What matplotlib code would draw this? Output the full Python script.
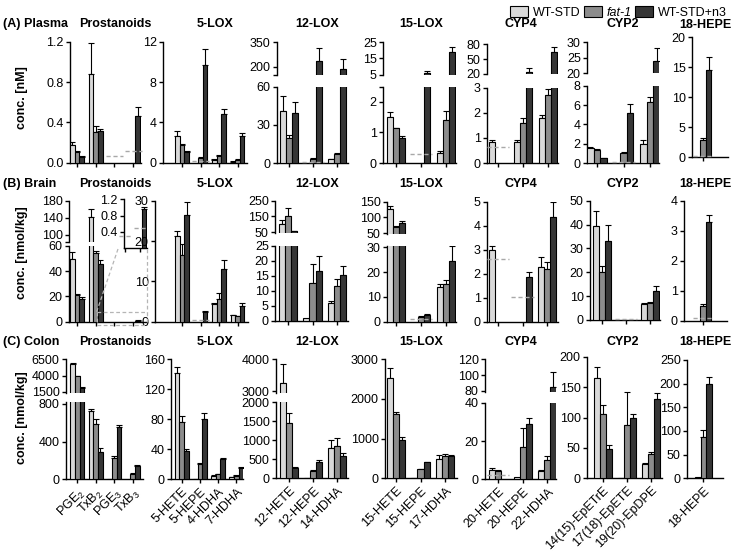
import numpy as np
import matplotlib
matplotlib.use("Agg")
import matplotlib.pyplot as plt
from matplotlib.patches import Patch
from matplotlib.lines import Line2D

plt.rcParams["font.family"] = ["Liberation Sans", "DejaVu Sans"]
plt.rcParams["mathtext.fontset"] = "custom"
plt.rcParams["mathtext.rm"] = "Liberation Sans"
plt.rcParams["mathtext.it"] = "Liberation Sans:italic"

nan = np.nan

# ---- categories ----
groups = ["WT-STD", "fat-1", "WT-STD+n3"]
titles = ["Prostanoids", "5-LOX", "12-LOX", "15-LOX", "CYP4", "CYP2", "18-HEPE"]
prost_labels = ["PGE$_2$", "TxB$_2$", "PGE$_3$", "TxB$_3$"]
lox5_labels = ["5-HETE", "5-HEPE", "4-HDHA", "7-HDHA"]
lox12_labels = ["12-HETE", "12-HEPE", "14-HDHA"]
lox15_labels = ["15-HETE", "15-HEPE", "17-HDHA"]
cyp4_labels = ["20-HETE", "20-HEPE", "22-HDHA"]
cyp2_labels = ["14(15)-EpETrE", "17(18)-EpETE", "19(20)-EpDPE"]
hepe_labels = ["18-HEPE"]

# ---- (A) plasma, nM: [WT-STD, fat-1, WT-STD+n3] ----
A_prost_mean = [[0.18, 0.88, nan, nan], [0.11, 0.31, nan, nan], [0.06, 0.32, nan, 0.46]]
A_prost_sd = [[0.03, 0.31, 0, 0], [0.01, 0.05, 0, 0], [0.01, 0.02, 0, 0.09]]
A_prost_loq = [nan, nan, 0.07, 0.12]
A_5lox_mean = [[2.7, nan, 0.3, 0.1], [1.8, 0.5, 0.7, 0.3], [1.1, 9.7, 4.8, 2.7]]
A_5lox_sd = [[0.5, 0, 0.1, 0.02], [0.1, 0.1, 0.1, 0.05], [0.1, 1.6, 0.5, 0.3]]
A_5lox_loq = [nan, 0.12, nan, nan]
A_12lox_mean = [[41, nan, 3], [20, 3.5, 7], [39, 237, 186]]
A_12lox_sd = [[12, 0, 0.5], [2, 0.5, 1], [9, 76, 59]]
A_12lox_loq = [nan, 0.5, nan]
A_15lox_mean = [[1.52, nan, 0.33], [1.14, nan, 1.4], [0.83, 6.2, 19.2]]
A_15lox_sd = [[0.16, 0, 0.06], [0.02, 0, 0.3], [0.07, 1.0, 2.7]]
A_15lox_loq = [nan, 0.3, nan]
A_cyp4_mean = [[0.85, 0.84, 1.8], [nan, 1.6, 2.72], [nan, 24, 64]]
A_cyp4_sd = [[0.06, 0.07, 0.1], [0, 0.2, 0.23], [0, 8, 11]]
A_cyp4_loq = [0.65, nan, nan]
A_cyp2_mean = [[1.6, nan, 2.0], [1.4, 1.0, 6.3], [0.5, 5.2, 24]]
A_cyp2_sd = [[0.1, 0, 0.35], [0.1, 0.12, 0.6], [0.03, 0.9, 4]]
A_cyp2_loq = [nan, 0.1, nan]
A_hepe_mean = [[nan], [2.9], [14.5]]
A_hepe_sd = [[0], [0.2], [2.2]]
A_hepe_loq = [0.1]

# ---- (B) brain, nmol/kg ----
B_prost_mean = [[50, 143, nan, nan], [21.5, 54.7, nan, nan], [18, 45.7, nan, 0.95]]
B_prost_sd = [[5, 17, 0, 0], [0.5, 1.5, 0, 0], [1.5, 3, 0, 0.07]]
B_prost_loq = [nan, nan, 0.3, 0.5]
B_5lox_mean = [[21.2, nan, 4.4, 1.6], [16.5, nan, 5.7, 1.4], [26.5, 2.3, 13, 4.0]]
B_5lox_sd = [[1.2, 0, 0.2, 0.1], [2.8, 0, 1.3, 0.1], [3.3, 0.3, 2.2, 0.6]]
B_5lox_loq = [nan, 0.5, nan, nan]
B_12lox_mean = [[105, 0.8, 6], [155, 12.5, 11.5], [55, 16.5, 15.2]]
B_12lox_sd = [[25, 0, 0.5], [50, 6.5, 2.3], [5, 5, 3]]
B_12lox_loq = [nan, nan, nan]
B_15lox_mean = [[128, nan, 14], [70, 1.9, 15], [83, 2.6, 24.5]]
B_15lox_sd = [[9, 0, 1], [2, 0.4, 2], [4, 0.5, 6]]
B_15lox_loq = [nan, 1.2, nan]
B_cyp4_mean = [[2.97, nan, 2.29], [nan, nan, 2.2], [nan, 1.86, 4.37]]
B_cyp4_sd = [[0.18, 0, 0.4], [0, 0, 0.3], [0, 0.22, 0.6]]
B_cyp4_loq = [2.63, 1.03, nan]
B_cyp2_mean = [[39.5, nan, 6.5], [20, nan, 7], [33, nan, 12]]
B_cyp2_sd = [[6, 0, 0.5], [2.5, 0, 0.5], [7, 0, 2.2]]
B_cyp2_loq = [nan, 0.5, nan]
B_hepe_mean = [[nan], [0.5], [3.3]]
B_hepe_sd = [[0], [0.06], [0.22]]
B_hepe_loq = [0.1]

# ---- (C) colon, nmol/kg ----
C_prost_mean = [[5750, 725, 5, nan], [3850, 590, 230, 60], [2050, 290, 550, 145]]
C_prost_sd = [[200, 20, 0, 0], [150, 50, 20, 10], [100, 40, 30, 5]]
C_5lox_mean = [[142, 1, 5, 3], [77, 20, 7, 5], [38, 80, 27, 15]]
C_5lox_sd = [[8, 0, 0.5, 0.3], [8, 2, 0.5, 0.5], [3, 9, 2, 1]]
C_12lox_mean = [[3250, 10, 800], [1450, 200, 860], [260, 420, 600]]
C_12lox_sd = [[600, 0, 200], [270, 30, 190], [40, 60, 60]]
C_15lox_mean = [[2540, 10, 480], [1620, 230, 550], [960, 400, 560]]
C_15lox_sd = [[250, 0, 120], [60, 10, 70], [80, 10, 40]]
C_cyp4_mean = [[5, 1, 4.3], [4.2, 16.7, 10.1], [nan, 28.7, 85]]
C_cyp4_sd = [[0.8, 0, 0.7], [0.5, 10.3, 2.1], [0, 3.5, 19]]
C_cyp4_loq = [2.5, nan, nan]
C_cyp2_mean = [[165, 1, 23], [105, 87, 40], [48, 100, 130]]
C_cyp2_sd = [[18, 0, 2], [15, 55, 3], [7, 6, 10]]
C_hepe_mean = [[3], [88], [200]]
C_hepe_sd = [[0], [15], [15]]

colors = ["#d9d9d9", "#8c8c8c", "#363636"]
loq_color = "#a8a8a8"
W, H = 733, 551
FS = 9

fig = plt.figure(figsize=(W / 100, H / 100), dpi=100)


def add_ax(x0, x1, y0, y1):
    return fig.add_axes([x0 / W, 1 - y1 / H, (x1 - x0) / W, (y1 - y0) / H])


def style(ax, bottom=True):
    for s in ["top", "right"]:
        ax.spines[s].set_visible(False)
    ax.spines["left"].set_linewidth(1.0)
    ax.spines["bottom"].set_linewidth(1.0)
    ax.spines["bottom"].set_visible(bottom)
    ax.tick_params(direction="out", length=3, width=1.0, labelsize=FS, pad=1.5)
    if not bottom:
        ax.tick_params(axis="x", bottom=False, labelbottom=False)


def draw_bars(ax, mean, sd, loq=None):
    n = len(mean[0])
    x = np.arange(n)
    for k, off in enumerate([-0.25, 0, 0.25]):
        m = np.array(mean[k], float)
        e = np.array(sd[k], float)
        ok = ~np.isnan(m)
        ax.bar((x + off)[ok], m[ok], width=0.25, color=colors[k],
               edgecolor="black", linewidth=0.8, zorder=3)
        ok = ok & (e > 0)
        ax.errorbar((x + off)[ok], m[ok], yerr=[np.zeros(ok.sum()), e[ok]],
                    fmt="none", ecolor="black", elinewidth=0.8, capsize=2,
                    capthick=0.8, zorder=2)
    if loq is not None:
        for i, v in enumerate(loq):
            if not np.isnan(v):
                ax.plot([i - 0.45, i + 0.45], [v, v], color=loq_color,
                        ls=(0, (3, 2)), lw=1.0, zorder=4, clip_on=False)


def panel(xs, parts, mean, sd, loq=None, labels=None):
    x0, x1, t0, s = xs
    n = len(mean[0])
    axes = []
    for j, part in enumerate(parts):
        y0, y1, ylim, ticks = part[:4]
        last = j == len(parts) - 1
        ax = add_ax(x0, x1, y0, y1)
        style(ax, bottom=last)
        draw_bars(ax, mean, sd, loq if last else None)
        ax.set_xlim((x0 - t0) / s, (x1 - t0) / s)
        ax.set_ylim(*ylim)
        ax.set_yticks(ticks)
        if len(part) > 4:
            ax.set_yticklabels(part[4])
        else:
            ax.set_yticklabels([f"{t:g}" for t in ticks])
        if last:
            ax.set_xticks(np.arange(n))
            if labels:
                ax.set_xticklabels(labels, rotation=45, ha="right",
                                   rotation_mode="anchor", fontsize=FS)
            else:
                ax.set_xticklabels([])
        axes.append(ax)
    return axes


# ---- row A ----
panel((70, 141, 77, 18.7), [(42, 162.7, (0, 1.2), [0, 0.4, 0.8, 1.2], ["0.0", "0.4", "0.8", "1.2"])],
      A_prost_mean, A_prost_sd, A_prost_loq)
panel((163, 247, 182, 18.5), [(42, 162.7, (0, 12), [0, 4, 8, 12])], A_5lox_mean, A_5lox_sd, A_5lox_loq)
panel((277, 348, 289, 24), [(42.3, 74.6, (150, 350), [150, 200, 350], ["", "200", "350"]),
                            (86.7, 163, (0, 60), [0, 30, 60])], A_12lox_mean, A_12lox_sd, A_12lox_loq)
panel((383, 456, 396, 25), [(42.3, 74.7, (5, 25), [5, 15, 25]),
                            (86.7, 163, (0, 2.5), [0, 1, 2, 2.5], ["0", "1", "2", ""])],
      A_15lox_mean, A_15lox_sd, A_15lox_loq)
panel((487, 558, 498, 25), [(44, 74, (20, 80), [20, 50, 80]), (88, 163, (0, 3), [0, 1, 2, 3])],
      A_cyp4_mean, A_cyp4_sd, A_cyp4_loq)
panel((587, 659, 597, 26.5), [(42, 73, (20, 30), [20, 25, 30]), (86, 163, (0, 8), [0, 2, 4, 6, 8])],
      A_cyp2_mean, A_cyp2_sd, A_cyp2_loq)
panel((692, 728, 703, 22), [(37, 157, (0, 20), [0, 5, 10, 15, 20])], A_hepe_mean, A_hepe_sd, A_hepe_loq)

# ---- row B ----
bp = panel((69, 147, 77, 18.7), [(200.7, 241.7, (84, 180), [84, 100, 140, 180], ["", "100", "140", "180"]),
                                 (246, 321.7, (0, 60), [0, 20, 40, 60])], B_prost_mean, B_prost_sd)
ins = add_ax(124, 147, 199.3, 248)
style(ins)
draw_bars(ins, B_prost_mean, B_prost_sd, B_prost_loq)
ins.set_xlim(1.91, 3.44)
ins.set_ylim(0, 1.2)
ins.set_yticks([0.4, 0.8, 1.2])
ins.set_yticklabels(["0.4", "0.8", "1.2"])
ins.set_xticks([2, 3])
ins.set_xticklabels([])
for xa, ya, xb, yb in [(118, 249, 96.7, 311.7), (147, 249, 147, 311.7), (96.7, 311.7, 147, 311.7),
                       (96.7, 325, 147, 325), (96.7, 311.7, 96.7, 325), (147, 311.7, 147, 325)]:
    fig.add_artist(Line2D([xa / W, xb / W], [1 - ya / H, 1 - yb / H], transform=fig.transFigure,
                          color="#b5b5b5", ls=(0, (3, 2)), lw=0.9))

panel((155, 248, 182, 18.5), [(200.7, 321.7, (0, 30), [0, 10, 20, 30])], B_5lox_mean, B_5lox_sd, B_5lox_loq)
panel((275, 348, 288, 24.5), [(200.7, 233, (45, 250), [50, 150, 250]),
                              (245.7, 320.7, (0, 25), [0, 5, 10, 15, 20, 25])],
      B_12lox_mean, B_12lox_sd, B_12lox_loq)
panel((387, 456, 396, 25), [(201.7, 234, (47, 150), [50, 100, 150]),
                            (246, 321.7, (0, 30.5), [0, 10, 20, 30])], B_15lox_mean, B_15lox_sd, B_15lox_loq)
panel((487, 558, 498, 24.5), [(201.7, 321.7, (0, 5), [0, 1, 2, 3, 4, 5])], B_cyp4_mean, B_cyp4_sd, B_cyp4_loq)
panel((590, 660, 602, 24), [(200.7, 320, (0, 50), [0, 10, 20, 30, 40, 50])], B_cyp2_mean, B_cyp2_sd, B_cyp2_loq)
panel((684, 727, 703, 22), [(200.7, 320.7, (0, 4), [0, 1, 2, 3, 4])], B_hepe_mean, B_hepe_sd, B_hepe_loq)

# ---- row C ----
panel((66, 143, 77.3, 18.5), [(359.3, 393, (1300, 6500), [1500, 4000, 6500]),
                              (402, 479.3, (0, 820), [0, 400, 800])],
      C_prost_mean, C_prost_sd, labels=prost_labels)
panel((171, 243, 181.7, 18.2), [(359.3, 479.3, (0, 160), [0, 40, 80, 120, 160])],
      C_5lox_mean, C_5lox_sd, labels=lox5_labels)
panel((276, 348, 289.3, 23.7), [(359.3, 393, (2940, 4000), [3000, 4000]),
                                (402.3, 478.3, (0, 2000), [0, 500, 1000, 1500, 2000])],
      C_12lox_mean, C_12lox_sd, labels=lox12_labels)
panel((385, 457, 396, 24.5), [(359.3, 478.3, (0, 3000), [0, 1000, 2000, 3000])],
      C_15lox_mean, C_15lox_sd, labels=lox15_labels)
panel((485, 556, 498.3, 24.5), [(359.3, 391.7, (79, 120), [80, 100, 120]),
                                (402.7, 479.3, (0, 40), [0, 20, 40])],
      C_cyp4_mean, C_cyp4_sd, C_cyp4_loq, labels=cyp4_labels)
panel((587, 662, 602.7, 24), [(356.7, 478.3, (0, 200), [0, 50, 100, 150, 200])],
      C_cyp2_mean, C_cyp2_sd, labels=cyp2_labels)
panel((687, 723, 703.3, 22), [(360, 478.3, (0, 250), [0, 50, 100, 150, 200, 250])],
      C_hepe_mean, C_hepe_sd, labels=hepe_labels)

# ---- text ----
title_x = [115, 215, 317, 421, 521, 623, 705]
for r, (row, ty) in enumerate(zip(["(A) Plasma", "(B) Brain", "(C) Colon"], [24, 184, 342])):
    fig.text(3 / W, 1 - ty / H, row, ha="left", va="center", fontsize=9, fontweight="bold")
    for name, tx in zip(titles, title_x):
        yy = ty + 1 if (r == 0 and name == "18-HEPE") else ty
        fig.text(tx / W, 1 - yy / H, name, ha="center", va="center", fontsize=9, fontweight="bold")

for lab, yc in [("conc. [nM]", 98), ("conc. [nmol/kg]", 253), ("conc. [nmol/kg]", 418)]:
    fig.text(22 / W, 1 - yc / H, lab, rotation=90, ha="center", va="center", fontsize=9, fontweight="bold")

handles = [Patch(facecolor=c, edgecolor="black", linewidth=0.8, label=g) for c, g in zip(colors, groups)]
leg = fig.legend(handles=handles, loc="upper right", bbox_to_anchor=(1.0, 1.0), ncol=3, frameon=False,
                 fontsize=9, handlelength=1.4, handleheight=0.9, handletextpad=0.4,
                 columnspacing=0.3, borderaxespad=0.1)
leg.get_texts()[1].set_style("italic")

fig.savefig("out.png", dpi=100)
